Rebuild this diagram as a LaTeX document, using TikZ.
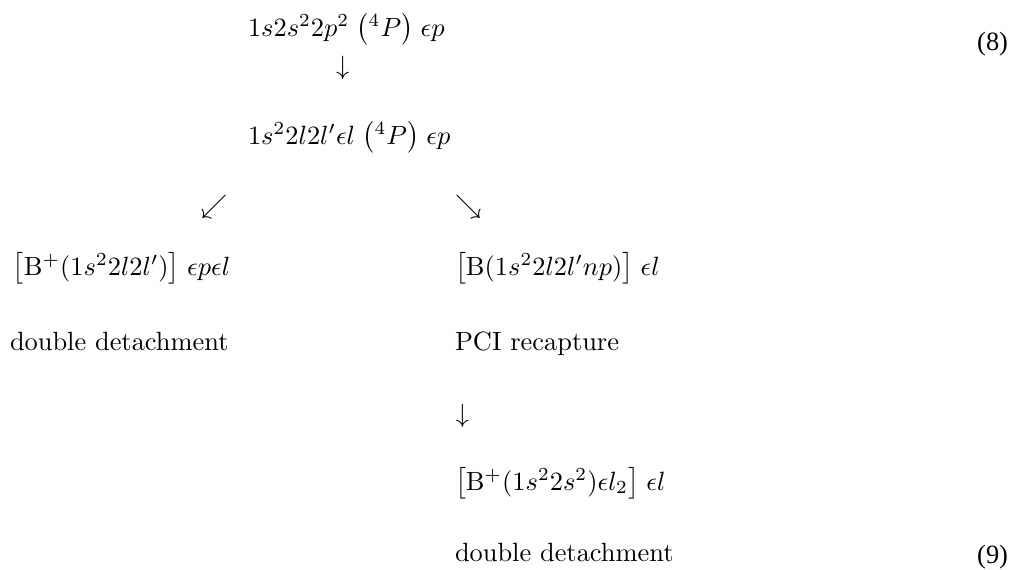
\documentclass[tikz,border=0pt]{standalone}
\usepackage{fontspec}
\newfontfamily\eqnumfont{Liberation Serif}
\begin{document}
\begin{tikzpicture}[x=0.3788pt,y=-0.3788pt,
  txt/.style={inner sep=0pt,outer sep=0pt,anchor=base west,font=\fontsize{10}{12}\selectfont},
  eqn/.style={inner sep=0pt,outer sep=0pt,anchor=base east,font=\eqnumfont\fontsize{10}{12}\selectfont}]
\useasboundingbox (0,0) rectangle (1011,570);
\node[txt] (r1) at (248,36) {$1s2s^22p^2\;\bigl({}^4P\bigr)\;\epsilon p$};
\node[txt] (a1) at (336,74) {$\downarrow$};
\node[txt] (r2) at (248,144) {$1s^22l2l'\epsilon l\;\bigl({}^4P\bigr)\;\epsilon p$};
\node[txt] (a2) at (201,213) {$\swarrow$};
\node[txt] (a3) at (455,213) {$\searrow$};
\node[txt] (r3l) at (13,275) {$\bigl[\mathrm{B}^+(1s^22l2l')\bigr]\;\epsilon p\epsilon l$};
\node[txt] (r3r) at (455,275) {$\bigl[\mathrm{B}(1s^22l2l'np)\bigr]\;\epsilon l$};
\node[txt] (d1) at (10,350) {double detachment};
\node[txt] (pci) at (455,350) {PCI recapture};
\node[txt] (a4) at (456,422) {$\downarrow$};
\node[txt] (r4) at (455,490) {$\bigl[\mathrm{B}^+(1s^22s^2)\epsilon l_2\bigr]\;\epsilon l$};
\node[txt] (d2) at (455,561) {double detachment};
\node[eqn] (e8) at (1008,50) {(8)};
\node[eqn] (e9) at (1008,563) {(9)};
\end{tikzpicture}
\end{document}
